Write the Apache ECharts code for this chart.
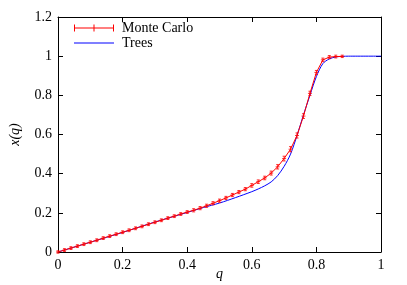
<!DOCTYPE html>
<html><head><meta charset="utf-8">
<script src="https://cdn.jsdelivr.net/npm/echarts@6/dist/echarts.min.js"></script>
<style>html,body{margin:0;padding:0;background:#fff}#c{width:407px;height:285px}</style>
</head><body><div id="c"></div>
<script>
var mcQ = [0,0.02,0.04,0.06,0.08,0.10,0.12,0.14,0.16,0.18,0.20,0.22,0.24,0.26,0.28,0.30,0.32,0.34,0.36,0.38,0.40,0.42,0.44,0.46,0.48,0.50,0.52,0.54,0.56,0.58,0.60,0.62,0.64,0.66,0.68,0.70,0.72,0.74,0.76,0.78,0.80,0.82,0.84,0.86,0.88];
var mcX = [0,0.010,0.020,0.030,0.040,0.050,0.060,0.071,0.081,0.091,0.101,0.111,0.121,0.131,0.142,0.152,0.162,0.173,0.183,0.194,0.204,0.213,0.224,0.236,0.249,0.262,0.276,0.291,0.306,0.321,0.340,0.359,0.378,0.403,0.435,0.477,0.525,0.595,0.694,0.810,0.917,0.981,0.995,0.998,0.999];
var mcErr = [0.001,0.002,0.002,0.002,0.002,0.002,0.002,0.002,0.002,0.002,0.002,0.002,0.002,0.002,0.002,0.002,0.002,0.002,0.002,0.002,0.002,0.003,0.003,0.003,0.003,0.003,0.003,0.003,0.003,0.003,0.004,0.004,0.004,0.005,0.006,0.007,0.008,0.008,0.007,0.006,0.005,0.004,0.003,0.002,0.001];
var treeQ = [0,0.10,0.20,0.30,0.40,0.45,0.50,0.55,0.60,0.62,0.64,0.66,0.68,0.70,0.72,0.74,0.76,0.78,0.80,0.82,0.84,0.86,0.88,0.90,1.0];
var treeX = [0,0.050,0.100,0.153,0.202,0.227,0.250,0.278,0.308,0.322,0.338,0.358,0.390,0.437,0.500,0.595,0.700,0.800,0.896,0.962,0.986,0.996,0.999,1.0,1.0];
var xTicks = [0,0.2,0.4,0.6,0.8,1];
var yTicks = [0,0.2,0.4,0.6,0.8,1,1.2];

var FONT = '"Liberation Serif", "DejaVu Serif", serif';
var mcData = mcQ.map(function(q,i){return [q, mcX[i]];});
var errData = mcQ.map(function(q,i){return [q, mcX[i], mcErr[i]];});
var treeData = treeQ.map(function(q,i){return [q, treeX[i]];});

function fmt(v){ return String(+v.toFixed(1)); }
var chart = echarts.init(document.getElementById('c'), null, {renderer:'canvas'});
var axisCommon = {
  axisLine:{show:true, onZero:false, lineStyle:{color:'#000', width:1}},
  axisTick:{show:true, inside:true, length:5, lineStyle:{color:'#000'}},
  splitLine:{show:false},
  axisLabel:{color:'#000', fontFamily:FONT, fontSize:14}
};
chart.setOption({
  animation:false,
  grid:{left:58, right:26, top:17, bottom:33, containLabel:false, outerBoundsMode:'none'},
  legend:[{
    left:74, top:21, padding:0, itemWidth:40, itemHeight:7, itemGap:4,
    textStyle:{fontFamily:FONT, fontSize:14, color:'#000', padding:[0,0,0,3]},
    data:[{name:'Monte Carlo', icon:'path://M0,3h40v1h-40z M0,0h1v7h-1z M19.5,0h1v7h-1z M39,0h1v7h-1z'}]
  },{
    left:74, top:36, padding:0, itemWidth:40, itemHeight:1,
    textStyle:{fontFamily:FONT, fontSize:14, color:'#000', padding:[0,0,0,3]},
    data:[{name:'Trees', icon:'path://M0,0h40v1h-40z'}]
  }],
  xAxis:[Object.assign({}, axisCommon, {
    type:'value', min:0, max:1, interval:0.2, position:'bottom',
    name:'q', nameLocation:'middle', nameGap:15, nameMoveOverlap:false,
    nameTextStyle:{fontFamily:FONT, fontSize:14, fontStyle:'italic', color:'#000', verticalAlign:'top'},
    axisLabel:Object.assign({}, axisCommon.axisLabel, {margin:6, formatter:function(v){return fmt(v);}})
  }), Object.assign({}, axisCommon, {
    type:'value', min:0, max:1, interval:0.2, position:'top',
    axisLabel:{show:false}
  })],
  yAxis:[Object.assign({}, axisCommon, {
    type:'value', min:0, max:1.2, interval:0.2, position:'left',
    name:'x(q)', nameLocation:'middle', nameGap:36, nameRotate:90, nameMoveOverlap:false,
    nameTextStyle:{fontFamily:FONT, fontSize:14, fontStyle:'italic', color:'#000'},
    axisLabel:Object.assign({}, axisCommon.axisLabel, {margin:6, formatter:function(v){return fmt(v);}})
  }), Object.assign({}, axisCommon, {
    type:'value', min:0, max:1.2, interval:0.2, position:'right',
    axisLabel:{show:false}
  })],
  series:[{
    name:'Trees', type:'line', data:treeData, smooth:0.3, showSymbol:false, symbol:'none',
    lineStyle:{color:'#0000ff', width:1}, itemStyle:{color:'#0000ff'}, z:2
  },{
    name:'Monte Carlo', type:'line', data:mcData, showSymbol:false, symbol:'none',
    lineStyle:{color:'#ff0000', width:1}, itemStyle:{color:'#ff0000'}, z:3
  },{
    name:'Monte Carlo', type:'custom', data:errData, z:4,
    itemStyle:{color:'#ff0000'},
    renderItem:function(params, api){
      var q = api.value(0), x = api.value(1), e = api.value(2);
      var c = api.coord([q, x]);
      var top = api.coord([q, x + e]);
      var bot = api.coord([q, x - e]);
      var cap = 1.5, arm = 2;
      var st = {stroke:'#ff0000', lineWidth:1, opacity:0.8};
      return {type:'group', children:[
        {type:'line', shape:{x1:c[0], y1:top[1]-1, x2:c[0], y2:bot[1]+1}, style:st},
        {type:'line', shape:{x1:c[0]-cap, y1:top[1]-1, x2:c[0]+cap, y2:top[1]-1}, style:st},
        {type:'line', shape:{x1:c[0]-cap, y1:bot[1]+1, x2:c[0]+cap, y2:bot[1]+1}, style:st},
        {type:'line', shape:{x1:c[0]-arm, y1:c[1], x2:c[0]+arm, y2:c[1]}, style:st}
      ]};
    }
  }]
});
</script></body></html>
